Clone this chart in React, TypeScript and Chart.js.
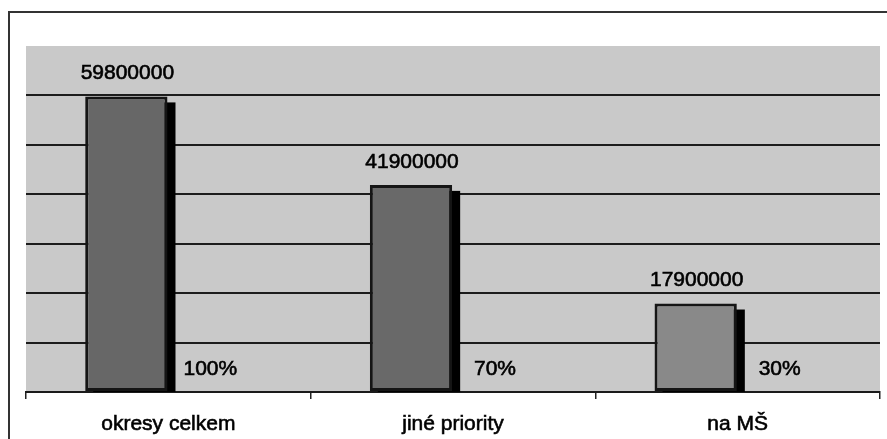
import React, { useEffect, useRef } from "react";
import { Chart, registerables } from "chart.js";

Chart.register(...registerables);

const categories = ["okresy celkem", "jiné priority", "na MŠ"];
const amounts = [59800000, 41900000, 17900000];
const shareLabels = ["100%", "70%", "30%"];
const shareSlot = [0, 0, 0];
const barColors = ["#676767", "#696969", "#898989"];
const yMax = 70000000;
const yStep = 10000000;

const FONT = "'Liberation Sans', Arial, sans-serif";

export default function App() {
  const ref = useRef<HTMLCanvasElement | null>(null);

  useEffect(() => {
    if (!ref.current) return;

    const bgPlugin = {
      id: "plotBg",
      beforeDraw(chart: any) {
        const { ctx, chartArea } = chart;
        ctx.save();
        ctx.fillStyle = "#c9c9c9";
        ctx.fillRect(chartArea.left, chartArea.top, chartArea.right - chartArea.left, chartArea.bottom - chartArea.top);
        ctx.restore();
      },
    };

    const shadowPlugin = {
      id: "barShadow",
      beforeDatasetsDraw(chart: any) {
        const { ctx, chartArea } = chart;
        const meta = chart.getDatasetMeta(0);
        ctx.save();
        ctx.beginPath();
        ctx.rect(chartArea.left, chartArea.top, chartArea.right - chartArea.left, chartArea.bottom - chartArea.top);
        ctx.clip();
        ctx.fillStyle = "#000";
        meta.data.forEach((bar: any) => {
          const w = bar.width;
          const left = bar.x - w / 2 + 8;
          const top = bar.y + 6;
          ctx.fillRect(left, top, w, bar.base - top + 10);
        });
        ctx.restore();
      },
    };

    const labelPlugin = {
      id: "labels",
      afterDatasetsDraw(chart: any) {
        const { ctx, chartArea } = chart;
        ctx.save();
        ctx.fillStyle = "#000";
        ctx.strokeStyle = "#000";
        ctx.lineWidth = 0.6;
        ctx.font = `21px ${FONT}`;
        ctx.textAlign = "center";
        ctx.textBaseline = "middle";
        const m0 = chart.getDatasetMeta(0);
        m0.data.forEach((bar: any, i: number) => {
          const t = String(amounts[i]);
          ctx.fillText(t, bar.x + 1, bar.y - 23);
          ctx.strokeText(t, bar.x + 1, bar.y - 23);
        });
        const m1 = chart.getDatasetMeta(1);
        m1.data.forEach((bar: any, i: number) => {
          ctx.fillText(shareLabels[i], bar.x, chartArea.bottom - 23);
          ctx.strokeText(shareLabels[i], bar.x, chartArea.bottom - 23);
        });
        ctx.restore();
      },
    };

    const chart = new Chart(ref.current, {
      type: "bar",
      data: {
        labels: categories,
        datasets: [
          {
            data: amounts,
            backgroundColor: barColors,
            borderColor: "#151515",
            borderWidth: 3,
            borderSkipped: false,
            categoryPercentage: 0.59,
            barPercentage: 0.98,
          },
          {
            data: shareSlot,
            backgroundColor: "rgba(0,0,0,0)",
            borderWidth: 0,
            categoryPercentage: 0.59,
            barPercentage: 0.98,
          },
        ],
      },
      options: {
        responsive: true,
        maintainAspectRatio: false,
        animation: false,
        layout: { padding: { left: 26, right: 7, top: 46, bottom: 0 } },
        plugins: {
          legend: { display: false },
          tooltip: { enabled: false },
          title: { display: false },
        },
        scales: {
          x: {
            grid: {
              display: true,
              drawOnChartArea: false,
              drawTicks: true,
              tickLength: 7,
              color: "#222",
              lineWidth: 1.5,
            },
            border: { display: true, color: "#1a1a1a", width: 2 },
            ticks: {
              color: "#000",
              font: { family: FONT, size: 21 },
              padding: 13,
              textStrokeColor: "#000",
              textStrokeWidth: 0.6,
            },
            afterFit(scale: any) {
              scale.height = 47;
            },
          },
          y: {
            min: 0,
            max: yMax,
            ticks: { display: false, stepSize: yStep },
            border: { display: false },
            grid: {
              drawTicks: false,
              lineWidth: 2,
              color: (c: any) =>
                c.tick && (c.tick.value === yMax || c.tick.value === 0) ? "rgba(0,0,0,0)" : "#1c1c1c",
            },
            afterFit(scale: any) {
              scale.width = 0;
            },
          },
        },
      },
      plugins: [bgPlugin, shadowPlugin, labelPlugin],
    });

    return () => chart.destroy();
  }, []);

  return (
    <div style={{ position: "absolute", left: 0, top: 0, width: 887, height: 439, overflow: "hidden", background: "#fff" }}>
      <div
        style={{
          position: "absolute",
          left: 8,
          top: 11,
          width: 879,
          height: 428,
          borderLeft: "2px solid #333",
          borderTop: "2px solid #333",
          boxSizing: "border-box",
        }}
      />
      <div style={{ position: "absolute", left: 0, top: 0, width: 887, height: 439 }}>
        <canvas ref={ref} />
      </div>
    </div>
  );
}
